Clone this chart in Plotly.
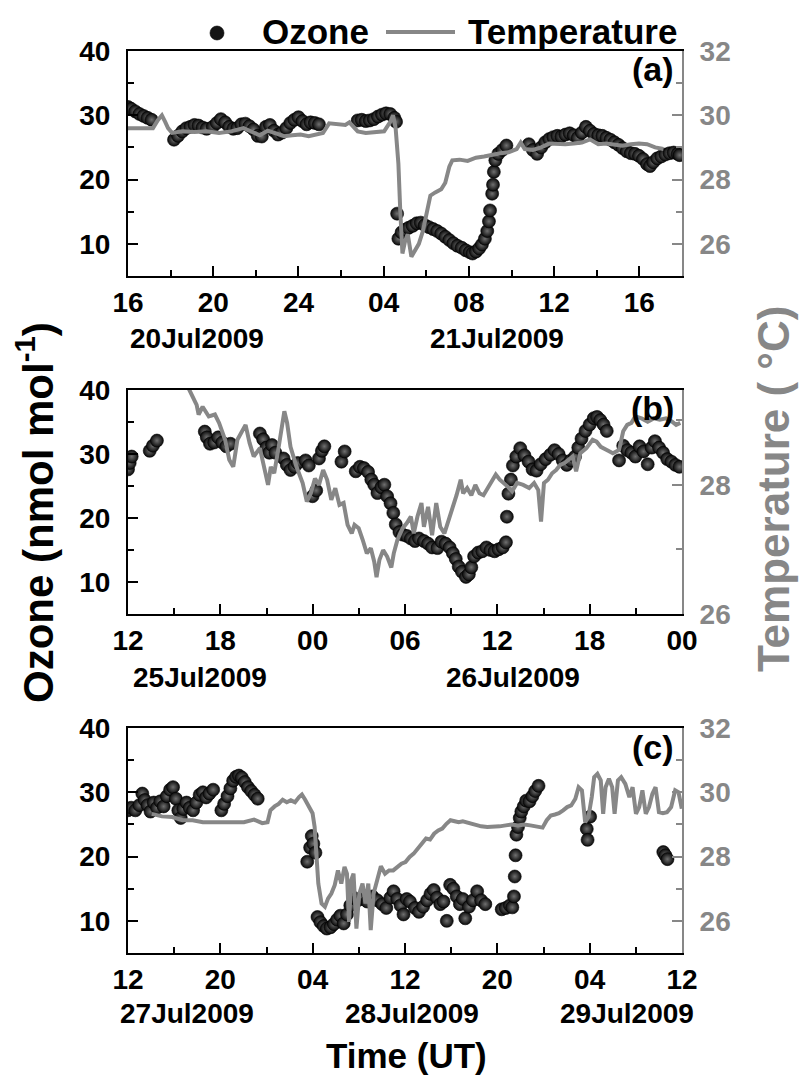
import pandas as pd
import plotly.graph_objects as go

# ---------------- data (hours since panel start) ----------------
# Panel (a): start 2009-07-20 16:00
a_start = "2009-07-20 16:00"
a_oz_h = [0.00,0.15,0.34,0.54,0.73,0.92,1.11,2.16,2.35,2.55,2.74,2.93,3.12,3.31,3.50,3.69,3.98,4.17,4.36,4.56,
          4.75,4.94,5.13,5.32,5.51,5.70,5.89,6.09,6.28,6.47,6.66,6.85,7.04,7.23,7.43,7.62,7.81,8.00,8.19,8.38,
          8.57,8.77,8.96,10.78,10.97,11.16,11.35,11.54,11.73,11.92,12.11,12.31,12.50,12.58,12.63,12.69,12.84,13.01,13.17,13.36,
          13.55,13.74,13.93,14.12,14.32,14.51,14.70,14.89,15.08,15.27,15.46,15.66,15.85,16.04,16.17,16.33,16.48,16.61,16.75,16.86,
          16.94,16.99,17.09,17.13,17.17,17.24,17.38,17.57,17.76,18.81,19.00,19.20,19.39,19.58,19.77,19.96,20.15,20.34,20.53,20.73,
          20.92,21.11,21.30,21.49,21.68,21.87,22.07,22.26,22.45,22.64,22.83,23.02,23.21,23.41,23.60,23.79,23.98,24.17,24.36,24.50,
          24.65,24.84,25.03,25.22,25.42,25.61,25.80,25.89]
a_oz_v = [31.3,31.0,30.6,30.2,29.9,29.6,29.3,26.2,26.8,27.5,28.0,28.2,28.5,28.4,28.1,27.9,28.2,28.8,29.4,28.9,
          28.2,27.9,28.0,28.6,28.7,28.3,27.8,26.8,26.7,28.2,28.5,27.6,27.0,27.3,28.0,28.8,29.3,29.7,29.1,28.6,
          28.9,28.8,28.6,29.2,29.3,29.1,29.2,29.4,29.8,30.1,30.3,30.2,29.6,29.0,14.7,10.8,11.8,12.2,12.5,12.8,
          13.2,13.3,12.9,12.6,12.3,12.0,11.6,11.1,10.6,10.1,9.7,9.4,9.0,8.7,8.5,8.8,9.3,9.9,10.8,12.0,
          13.5,15.2,17.8,19.2,21.2,23.0,24.0,24.6,25.3,25.5,24.6,24.0,25.0,25.8,26.3,26.6,26.8,26.7,27.0,27.2,
          26.9,26.5,27.3,28.2,27.6,27.1,26.9,26.8,26.5,26.2,25.8,25.4,24.9,24.4,24.1,24.0,23.7,23.2,22.4,22.1,
          22.7,23.3,23.6,23.9,24.1,24.2,24.0,23.8]
a_t_h = [0.00,0.44,0.92,1.17,1.40,1.59,1.74,1.88,2.07,2.55,3.12,3.69,4.27,4.84,5.42,5.80,6.18,6.56,6.95,7.33,
         7.71,8.10,8.48,8.86,9.15,9.44,9.82,10.20,10.39,10.58,10.78,11.16,11.54,12.02,12.31,12.44,12.56,12.69,12.78,12.88,
         13.01,13.13,13.30,13.46,13.65,13.84,14.03,14.19,14.42,14.70,14.89,15.08,15.22,15.56,15.94,16.33,16.71,17.09,17.47,17.86,
         18.24,18.43,18.62,19.00,19.39,19.77,20.15,20.53,20.92,21.30,21.68,22.07,22.45,22.83,23.21,23.60,23.98,24.36,24.74,25.13]
a_t_v = [29.60,29.60,29.62,29.60,29.85,30.00,29.80,29.60,29.45,29.50,29.48,29.50,29.45,29.50,29.60,29.50,29.38,29.52,29.42,29.35,
         29.38,29.40,29.35,29.40,29.45,29.75,29.72,29.70,29.78,29.65,29.50,29.45,29.48,29.50,29.80,30.00,29.60,28.50,27.00,25.70,
         26.10,26.30,25.60,25.80,26.00,26.40,27.00,27.50,27.60,27.70,27.90,28.40,28.60,28.62,28.58,28.68,28.72,28.78,28.82,28.85,
         28.95,29.15,28.95,28.92,29.00,29.12,29.10,29.10,29.12,29.15,29.25,29.10,29.12,29.08,29.05,29.10,29.12,29.10,29.00,28.95]

# Panel (b): start 2009-07-25 12:00
b_start = "2009-07-25 12:00"
b_oz_h = [0.00,0.11,0.24,1.41,1.62,1.88,4.99,5.12,5.33,5.60,5.86,6.13,6.39,6.66,8.57,8.78,8.99,9.18,9.36,9.58,
          10.11,10.32,10.56,10.82,11.03,11.54,11.75,11.99,12.23,12.41,12.60,12.76,13.87,14.08,14.80,15.07,15.33,15.60,15.81,16.00,
          16.21,16.47,16.66,16.84,17.06,17.24,17.40,17.64,17.85,18.12,18.38,18.65,18.91,19.23,19.50,19.76,20.11,20.37,20.64,20.90,
          21.11,21.30,21.49,21.70,21.96,22.15,22.31,22.49,22.76,23.02,23.29,23.55,23.82,24.08,24.35,24.56,24.62,24.72,24.88,25.01,
          25.23,25.49,25.76,26.03,26.29,26.55,26.82,27.14,27.45,27.72,27.98,28.25,28.51,28.78,29.05,29.26,29.47,29.73,30.00,30.27,
          30.48,30.69,30.90,31.11,31.91,32.18,32.44,32.71,32.97,33.24,33.50,33.77,34.03,34.24,34.51,34.77,35.04,35.31,35.57,35.84]
b_oz_v = [27.6,28.6,29.6,30.5,31.3,32.1,33.5,32.6,31.6,31.8,32.6,31.8,31.2,31.6,33.2,32.3,31.0,30.2,31.4,30.2,
          29.3,28.3,27.5,28.0,28.6,29.0,28.2,23.4,24.3,29.3,30.5,31.2,28.8,30.4,27.3,28.0,27.8,27.2,26.0,25.2,
          23.9,24.8,25.2,23.4,22.3,20.8,19.0,17.8,17.4,17.2,16.8,16.4,16.8,16.4,16.0,15.4,15.3,16.3,16.0,15.4,
          14.5,13.6,12.4,11.6,10.8,11.2,12.3,14.0,14.6,14.8,15.4,15.0,14.8,15.1,15.4,16.2,20.2,23.8,26.0,28.2,
          29.6,30.9,29.8,28.8,27.6,27.4,28.4,29.2,29.9,30.6,30.0,29.0,28.3,29.0,29.6,31.0,32.4,33.6,34.6,35.6,
          35.8,35.3,34.6,33.6,29.0,31.3,30.6,30.2,29.6,31.2,30.4,28.4,31.0,32.0,31.0,30.2,29.2,28.8,28.3,28.0]
b_t_h = [3.66,4.46,4.59,4.85,5.25,5.65,5.92,6.31,6.58,6.84,7.11,7.37,7.64,7.90,8.17,8.57,8.83,9.10,9.28,9.50,
         9.76,10.16,10.34,10.56,10.95,11.35,11.62,11.88,12.15,12.41,12.68,12.94,13.21,13.47,13.74,14.01,14.27,14.54,14.72,14.99,
         15.25,15.52,15.78,16.00,16.15,16.34,16.58,16.84,17.11,17.27,17.51,17.85,18.12,18.38,18.57,18.81,19.07,19.23,19.50,19.76,
         20.03,20.29,20.56,20.82,21.09,21.35,21.62,21.78,22.04,22.31,22.57,22.84,23.10,23.37,23.63,23.90,24.16,24.43,24.69,24.96,
         25.28,25.68,26.07,26.39,26.66,26.84,27.03,27.29,27.56,27.82,28.09,28.36,28.62,28.89,29.12,29.39,29.79,30.19,30.45,30.72,
         31.11,31.51,31.91,32.18,32.44,32.71,32.97,33.37,33.77,34.16,34.56,34.96,35.36,35.62,35.89]
b_t_v = [29.63,29.24,29.09,29.21,29.06,29.09,28.96,28.70,28.39,28.28,28.70,28.80,28.93,28.65,28.44,28.57,28.28,28.00,28.28,28.18,
         28.54,29.14,28.96,28.59,28.28,28.03,27.74,27.87,28.10,28.00,28.23,28.08,27.77,27.95,27.69,27.72,27.38,27.25,27.38,27.33,
         27.15,26.94,27.02,26.81,26.57,26.84,26.99,26.89,26.72,26.94,27.15,27.33,27.41,27.51,27.25,27.51,27.72,27.35,27.66,27.22,
         27.72,27.35,27.25,27.43,27.66,27.84,28.08,27.87,27.95,27.84,28.00,27.87,27.84,27.95,28.08,28.16,28.08,28.03,27.97,27.90,
         28.03,28.00,27.95,28.03,27.92,27.43,28.03,28.08,28.18,28.23,28.31,28.34,28.39,28.44,28.21,28.49,28.57,28.70,28.67,28.59,
         28.54,28.49,28.54,28.83,28.93,28.96,29.06,29.03,28.98,29.03,29.01,29.03,28.98,28.93,28.96]

# Panel (c): start 2009-07-27 12:00
c_start = "2009-07-27 12:00"
c_oz_h = [0.00,0.28,0.64,0.99,1.24,1.45,1.70,1.95,2.23,2.52,2.80,3.09,3.37,3.65,3.90,4.15,4.36,4.57,4.79,5.07,
          5.35,5.64,5.92,6.21,6.49,6.77,7.06,7.38,8.09,8.33,8.62,8.87,9.11,9.36,9.61,9.86,10.11,10.39,10.67,10.96,
          11.24,15.53,15.78,15.92,16.06,16.24,16.42,16.67,16.95,17.23,17.55,17.84,18.12,18.40,18.69,18.97,19.26,19.54,19.89,20.32,
          20.74,21.17,21.60,22.02,22.38,22.73,23.01,23.33,23.62,23.87,24.15,24.43,24.86,25.21,25.57,25.92,26.21,26.49,26.77,27.06,
          27.34,27.62,27.91,28.19,28.48,28.76,29.01,29.22,29.54,29.89,30.25,30.60,30.96,32.38,32.73,33.09,33.30,33.44,33.51,33.58,
          33.65,33.79,33.94,34.08,34.29,34.50,34.79,35.04,35.28,35.57,39.75,39.82,40.04,46.38,46.56,46.74]
c_oz_v = [27.2,27.6,27.2,28.0,29.8,28.8,28.0,27.0,28.4,27.6,28.6,27.8,29.4,30.4,30.8,29.0,27.2,26.0,27.4,28.4,
          27.6,27.2,28.4,29.6,30.0,29.2,29.8,30.4,27.2,28.2,29.4,30.6,31.8,32.4,32.6,32.3,31.6,30.8,30.2,29.6,
          29.0,19.2,21.4,23.2,22.0,20.6,10.6,9.8,9.2,8.8,9.0,9.5,10.2,10.8,9.6,11.0,12.4,13.6,13.2,13.4,
          13.0,13.8,13.2,12.6,12.0,13.6,14.6,13.4,12.4,11.0,13.4,13.0,12.0,11.4,12.2,13.2,14.2,14.8,13.6,12.6,
          13.0,10.0,15.6,15.0,13.8,12.6,13.4,10.4,12.2,13.2,14.6,13.2,12.6,11.8,12.0,12.4,12.1,13.8,16.9,20.2,
          23.4,24.6,26.0,27.0,27.8,28.7,28.6,29.4,30.2,31.0,24.3,22.6,26.2,20.7,20.2,19.6]
c_t_h = [2.06,2.94,3.83,4.72,5.60,6.49,7.38,8.26,9.15,10.04,10.92,11.63,12.09,12.34,12.70,13.05,13.40,13.76,14.11,14.47,
         14.82,15.07,15.35,15.71,15.99,16.17,16.31,16.49,16.77,17.06,17.34,17.62,17.91,18.19,18.48,18.76,18.97,19.15,19.33,19.54,
         19.79,20.04,20.32,20.57,20.82,21.03,21.28,21.56,21.91,22.27,22.62,22.98,23.33,23.69,24.04,24.40,24.75,25.11,25.46,25.82,
         26.17,26.52,26.88,27.23,27.59,27.94,28.30,28.65,29.01,29.54,30.07,30.60,31.13,31.67,32.20,32.73,33.26,33.79,34.33,34.86,
         35.39,35.92,36.28,36.63,36.99,37.34,37.70,38.05,38.40,38.76,39.04,39.33,39.61,39.89,40.18,40.39,40.67,40.96,41.17,41.38,
         41.67,41.95,42.16,42.45,42.73,43.09,43.44,43.72,44.01,44.29,44.57,44.86,45.14,45.43,45.71,46.00,46.35,46.70,47.06,47.41,
         47.70,47.98]
c_t_v = [29.33,29.25,29.23,29.13,29.13,29.07,29.07,29.07,29.10,29.07,29.15,29.04,29.07,29.44,29.56,29.64,29.77,29.69,29.75,29.69,
         29.85,29.93,29.77,29.54,29.35,28.92,28.09,27.16,26.54,26.44,26.70,26.85,27.11,27.57,27.16,27.68,27.47,25.97,27.26,27.47,
         25.76,26.85,27.16,26.54,27.16,25.71,26.85,27.26,27.70,27.47,27.57,27.57,27.68,27.78,27.83,27.99,28.09,28.25,28.40,28.56,
         28.53,28.71,28.81,28.87,29.02,29.13,29.10,29.07,29.10,29.04,28.97,28.94,28.92,28.92,28.94,28.97,29.00,28.97,29.00,28.97,
         28.94,28.90,29.13,29.28,29.31,29.35,29.44,29.54,29.59,29.80,30.16,30.06,29.07,29.23,29.85,30.47,30.57,30.37,29.33,30.16,
         30.42,30.16,29.33,30.37,30.47,30.26,29.85,30.16,29.33,29.54,30.06,29.33,29.54,29.95,30.16,29.38,29.35,29.38,29.54,30.06,
         30.00,29.49]

# tick labels
a_ticktext = ["16", "20", "24", "04", "08", "12", "16"]
b_ticktext = ["12", "18", "00", "06", "12", "18", "00"]
c_ticktext = ["12", "20", "04", "12", "20", "04", "12"]
a_dates = ["20Jul2009", "21Jul2009"]
b_dates = ["25Jul2009", "26Jul2009"]
c_dates = ["27Jul2009", "28Jul2009", "29Jul2009"]
panel_labels = ["(a)", "(b)", "(c)"]

# ---------------- helpers ----------------
W, H = 799, 1078
FONT = "Liberation Sans, Arial, sans-serif"
GRAY = "#878787"


def px(x):
    return x / W


def py(y):
    return 1 - y / H


def times(start, hours):
    return pd.Timestamp(start) + pd.to_timedelta(hours, unit="h")


fig = go.Figure()

panels = [
    (a_start, 26, 4, 2, a_oz_h, a_oz_v, a_t_h, a_t_v, a_ticktext, [25, 32]),
    (b_start, 36, 6, 3, b_oz_h, b_oz_v, b_t_h, b_t_v, b_ticktext, [26, 29.47]),
    (c_start, 48, 8, 4, c_oz_h, c_oz_v, c_t_h, c_t_v, c_ticktext, [25, 32]),
]
tops = [51, 390, 728]
bottoms = [276, 614, 953]
XL, XR = 128, 682

marker = dict(size=13, color="#0a0a0a", symbol="circle",
              gradient=dict(type="radial", color="#707070"),
              line=dict(width=0.6, color="#000000"))

tickfont = dict(family=FONT, size=28, color="black", weight="bold")
tickfont_g = dict(family=FONT, size=28, color=GRAY, weight="bold")

for i, (start, span, major, minor, oz_h, oz_v, t_h, t_v, ttext, trange) in enumerate(panels):
    n = i + 1
    xs = "x" if n == 1 else f"x{n}"
    ys = "y" if n == 1 else f"y{n}"
    yr = f"y{n + 3}"
    fig.add_trace(go.Scatter(x=times(start, oz_h), y=oz_v, mode="markers", marker=marker,
                             name="Ozone", showlegend=False, xaxis=xs, yaxis=ys))
    fig.add_trace(go.Scatter(x=times(start, t_h), y=t_v, mode="lines",
                             line=dict(color=GRAY, width=4), name="Temperature",
                             showlegend=False, xaxis=xs, yaxis=yr))
    t0 = pd.Timestamp(start)
    tickvals = [t0 + pd.Timedelta(hours=h) for h in range(0, span + 1, major)]
    dom_y = [py(bottoms[i]), py(tops[i])]
    xkey = "xaxis" if n == 1 else f"xaxis{n}"
    ykey = "yaxis" if n == 1 else f"yaxis{n}"
    rkey = f"yaxis{n + 3}"
    fig.update_layout(**{
        xkey: dict(domain=[px(XL), px(XR)], anchor=ys, type="date", automargin=False,
                   range=[t0, t0 + pd.Timedelta(hours=span)],
                   tickmode="array", tickvals=tickvals, ticktext=ttext,
                   ticks="inside", ticklen=10, tickwidth=2, tickcolor="black",
                   minor=dict(ticks="inside", ticklen=6, tickwidth=2, tickcolor="black",
                              dtick=minor * 3600000, tick0=t0, showgrid=False),
                   showline=True, linecolor="black", linewidth=2, mirror=True,
                   showgrid=False, zeroline=False, tickfont=tickfont,
                   ticklabelstandoff=0),
        ykey: dict(domain=dom_y, anchor=xs, range=[5, 40], automargin=False,
                   tickmode="array", tickvals=[10, 20, 30, 40],
                   ticks="inside", ticklen=10, tickwidth=2, tickcolor="black",
                   minor=dict(ticks="inside", ticklen=6, tickwidth=2, tickcolor="black",
                              dtick=5, tick0=0, showgrid=False),
                   showline=True, linecolor="black", linewidth=2,
                   showgrid=False, zeroline=False, tickfont=tickfont,
                   ticklabelstandoff=10),
        rkey: dict(domain=dom_y, anchor=xs, overlaying=ys, side="right", range=trange,
                   automargin=False,
                   tickmode="array", tickvals=[26, 28, 30, 32],
                   ticks="inside", ticklen=10, tickwidth=2, tickcolor=GRAY,
                   minor=dict(ticks="inside", ticklen=6, tickwidth=2, tickcolor=GRAY,
                              dtick=1, tick0=0, showgrid=False),
                   showline=True, linecolor=GRAY, linewidth=2,
                   showgrid=False, zeroline=False, tickfont=tickfont_g,
                   ticklabelstandoff=10),
    })

ann = []
# date labels under the time axes
date_pos = [
    (a_dates, [(128, "left"), (497, "center")], 338),
    (b_dates, [(200, "center"), (513, "center")], 677),
    (c_dates, [(187, "center"), (412, "center"), (627, "center")], 1013),
]
for labels, pos, yy in date_pos:
    for lab, (xx, anc) in zip(labels, pos):
        ann.append(dict(text=lab, x=px(xx), y=py(yy), xref="paper", yref="paper",
                        xanchor=anc, yanchor="middle", showarrow=False,
                        font=dict(family=FONT, size=28, color="black", weight="bold")))
# panel labels
for lab, yy in zip(panel_labels, [69, 408, 747]):
    ann.append(dict(text=lab, x=px(676), y=py(yy), xref="paper", yref="paper",
                    xanchor="right", yanchor="middle", showarrow=False,
                    font=dict(family=FONT, size=34, color="black", weight="bold")))
# axis titles
ann.append(dict(text="Ozone (nmol mol<sup>-1</sup>)", x=px(35), y=py(513), xref="paper", yref="paper",
                xanchor="center", yanchor="middle", textangle=-90, showarrow=False,
                font=dict(family=FONT, size=42, color="black", weight="bold")))
ann.append(dict(text="Temperature ( °C)", x=px(774), y=py(489), xref="paper", yref="paper",
                xanchor="center", yanchor="middle", textangle=-90, showarrow=False,
                font=dict(family=FONT, size=44, color=GRAY, weight="bold")))
ann.append(dict(text="Time (UT)", x=px(406), y=py(1055), xref="paper", yref="paper",
                xanchor="center", yanchor="middle", showarrow=False,
                font=dict(family=FONT, size=35, color="black", weight="bold")))
# legend
ann.append(dict(text="Ozone", x=px(260), y=py(31), xref="paper", yref="paper",
                xanchor="left", yanchor="middle", showarrow=False,
                font=dict(family=FONT, size=35, color="black", weight="bold")))
ann.append(dict(text="Temperature", x=px(466), y=py(31), xref="paper", yref="paper",
                xanchor="left", yanchor="middle", showarrow=False,
                font=dict(family=FONT, size=35, color="black", weight="bold")))

shapes = [
    dict(type="circle", xref="paper", yref="paper", x0=px(210), x1=px(224), y0=py(40), y1=py(26),
         fillcolor="#141414", line=dict(color="black", width=0.6)),
    dict(type="line", xref="paper", yref="paper", x0=px(386), x1=px(455), y0=py(32), y1=py(32),
         line=dict(color=GRAY, width=4)),
]

fig.update_layout(width=W, height=H, margin=dict(l=0, r=0, t=0, b=0),
                  paper_bgcolor="white", plot_bgcolor="white",
                  showlegend=False, annotations=ann, shapes=shapes)

fig.write_html("out.html")
